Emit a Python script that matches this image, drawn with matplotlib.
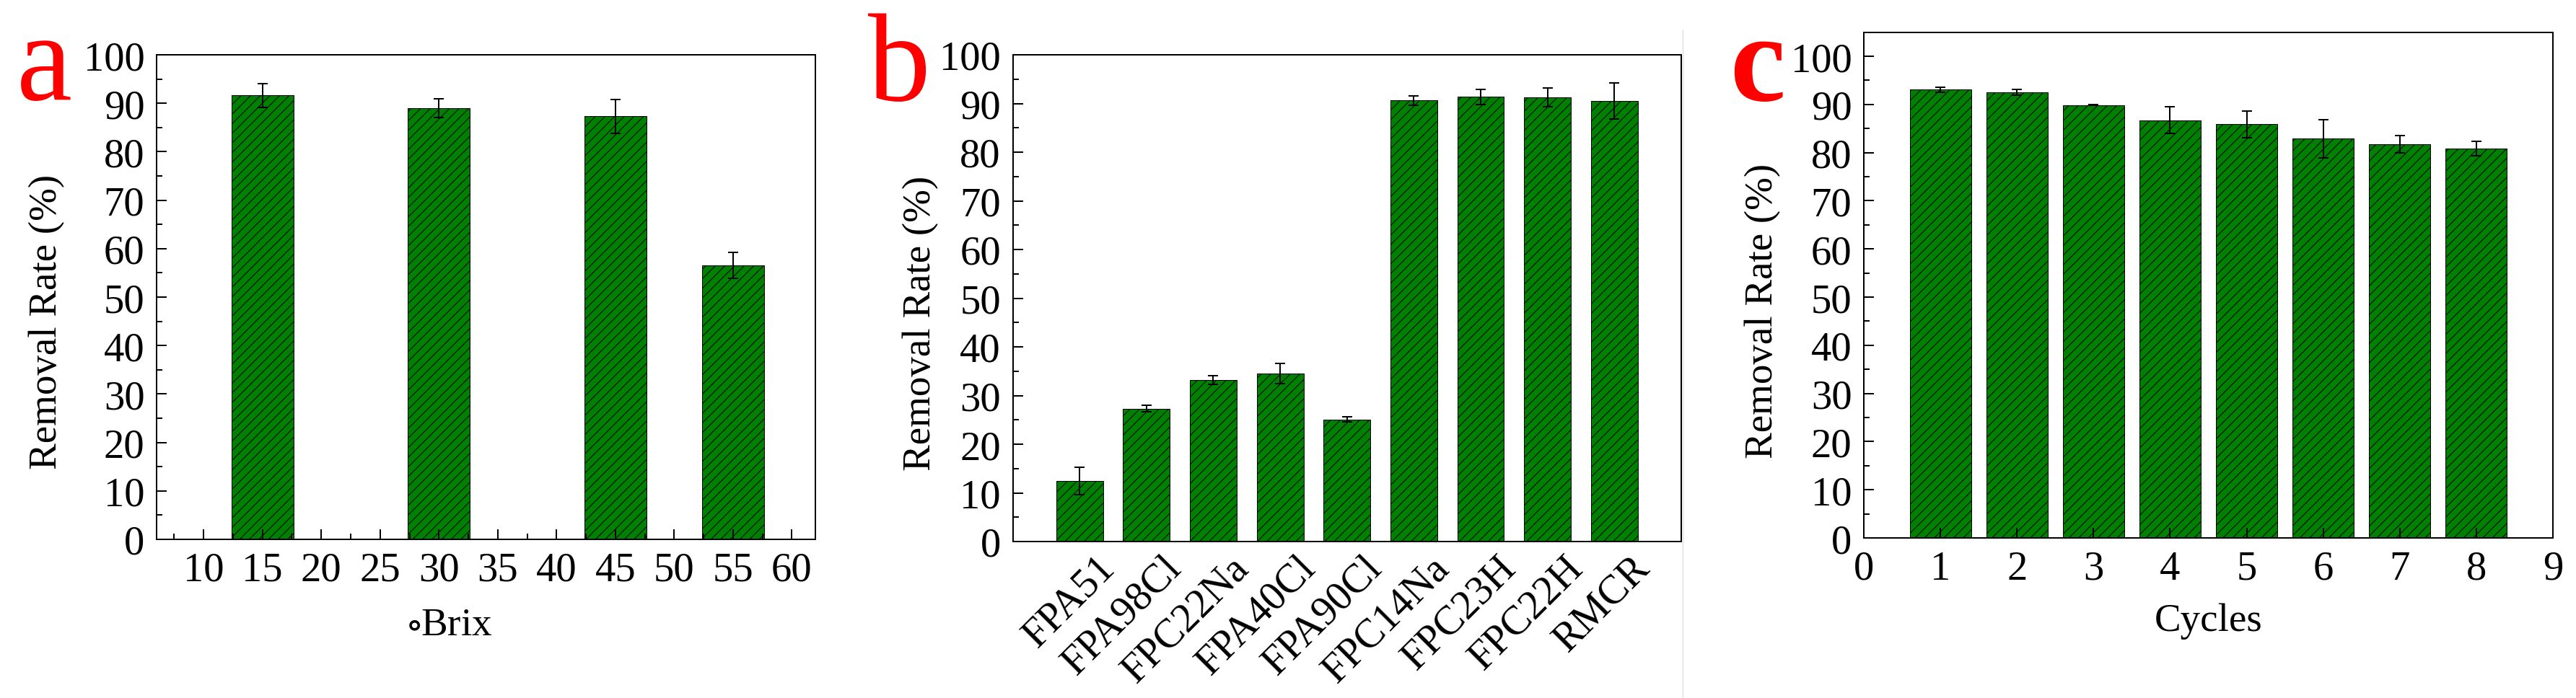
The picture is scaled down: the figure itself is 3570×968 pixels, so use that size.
import numpy as np
import matplotlib
matplotlib.use('Agg')
import matplotlib.pyplot as plt
from matplotlib.lines import Line2D
from matplotlib.ticker import MultipleLocator
from matplotlib.transforms import ScaledTranslation

# panel a: removal rate vs sugar concentration
brix = [15, 30, 45, 55]
brix_rate = [91.6, 89.0, 87.3, 56.5]
brix_err = [2.5, 1.9, 3.5, 2.7]

# panel b: different resins
resins = ['FPA51', 'FPA98Cl', 'FPC22Na', 'FPA40Cl', 'FPA90Cl',
          'FPC14Na', 'FPC23H', 'FPC22H', 'RMCR']
resin_rate = [12.5, 27.3, 33.2, 34.5, 25.1, 90.6, 91.4, 91.3, 90.5]
resin_err = [2.8, 0.65, 0.9, 2.1, 0.55, 1.0, 1.55, 1.9, 3.7]

# panel c: reuse cycles
cycles = [1, 2, 3, 4, 5, 6, 7, 8]
cycle_rate = [93.1, 92.6, 89.9, 86.75, 85.9, 82.9, 81.7, 80.9]
cycle_err = [0.5, 0.6, 0.1, 2.8, 2.8, 4.0, 1.8, 1.5]

W, H, DPI = 3570, 969, 120

plt.rcParams['font.family'] = ['Liberation Serif', 'DejaVu Serif']
plt.rcParams['mathtext.fontset'] = 'stix'
plt.rcParams['hatch.linewidth'] = 0.6
plt.rcParams['axes.linewidth'] = 1.2

GREEN = '#008000'
TICK_SIZE = 34
LABEL_SIZE = 33


def px_rect(left, right, top, bottom):
    return [left / W, 1 - bottom / H, (right - left) / W, (bottom - top) / H]


def style_axes(ax):
    ax.tick_params(which='both', direction='in', top=False, right=False,
                   labelsize=TICK_SIZE, width=1.2, pad=10)
    ax.tick_params(which='major', length=8.5)
    ax.tick_params(which='minor', length=5)
    ax.yaxis.set_major_locator(MultipleLocator(10))
    ax.yaxis.set_minor_locator(MultipleLocator(5))


def draw_bars(ax, x, y, err, width):
    ax.bar(x, y, width=width, color=GREEN, edgecolor='black', linewidth=0.6,
           hatch='///', zorder=1)
    ax.errorbar(x, y, yerr=err, fmt='none', ecolor='black', elinewidth=1.2,
                capsize=4.2, capthick=1.2, zorder=3)


fig = plt.figure(figsize=(W / DPI, H / DPI), dpi=DPI)

# a
ax_a = fig.add_axes(px_rect(217, 1130, 77, 749))
draw_bars(ax_a, brix, brix_rate, brix_err, 5.3)
ax_a.set_xlim(6, 62)
ax_a.set_ylim(0, 100)
style_axes(ax_a)
ax_a.set_xticks(np.arange(7.5, 60, 5), minor=True)
ax_a.set_xticks(np.arange(10, 61, 5))
ax_a.set_ylabel('Removal Rate (%)', fontsize=LABEL_SIZE, va='center')
ax_a.yaxis.set_label_coords(-0.1665, 0.45)
ax_a.set_xlabel(r'$\circ$Brix', fontsize=LABEL_SIZE, va='center')
ax_a.xaxis.set_label_coords(0.445, -0.177)

# b
ax_b = fig.add_axes(px_rect(1403.5, 2330, 77, 752))
pos = np.arange(1, len(resins) + 1)
draw_bars(ax_b, pos, resin_rate, resin_err, 0.7)
ax_b.set_xlim(0, len(resins) + 1)
ax_b.set_ylim(0, 100)
style_axes(ax_b)
ax_b.set_xticks(pos, resins, rotation=45, ha='right', va='top',
                rotation_mode='anchor', fontsize=TICK_SIZE)
ax_b.tick_params(axis='x', length=0, pad=6)
shift = ScaledTranslation(22 / DPI, 0, fig.dpi_scale_trans)
for lab in ax_b.get_xticklabels():
    lab.set_transform(lab.get_transform() + shift)
ax_b.set_ylabel('Removal Rate (%)', fontsize=LABEL_SIZE, va='center')
ax_b.yaxis.set_label_coords(-0.1376, 0.45)

# faint frame line at the right of panel b
fig.add_artist(Line2D([2331.5 / W, 2331.5 / W], [0, 1 - 43 / H],
                      transform=fig.transFigure, color='#dcdcdc', lw=0.8))

# c
ax_c = fig.add_axes(px_rect(2583, 3538, 45.7, 747))
draw_bars(ax_c, cycles, cycle_rate, cycle_err, 0.8)
ax_c.set_xlim(0, 9)
ax_c.set_ylim(0, 105)
style_axes(ax_c)
ax_c.xaxis.set_major_locator(MultipleLocator(1))
ax_c.set_ylabel('Removal Rate (%)', fontsize=LABEL_SIZE, va='center')
ax_c.yaxis.set_label_coords(-0.1466, 0.45)
ax_c.set_xlabel('Cycles', fontsize=LABEL_SIZE, va='center')
ax_c.xaxis.set_label_coords(0.5, -0.164)

# panel letters
fig.text(23 / W, 1 - 138 / H, 'a', color='red', fontsize=104, va='baseline')
fig.text(1203 / W, 1 - 139 / H, 'b', color='red', fontsize=104, va='baseline')
fig.text(2397 / W, 1 - 139 / H, 'c', color='red', fontsize=104,
         fontweight='bold', va='baseline')

fig.savefig('out.png', dpi=DPI)
